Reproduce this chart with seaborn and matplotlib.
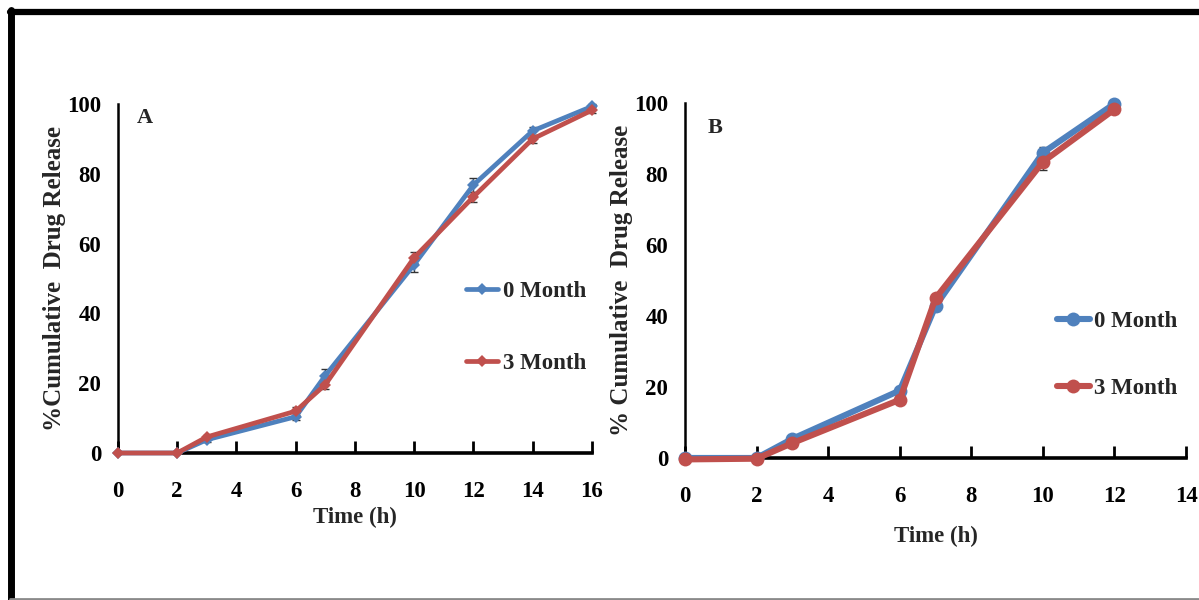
import numpy as np
import pandas as pd
import matplotlib
matplotlib.use("Agg")
import matplotlib.pyplot as plt
from matplotlib.lines import Line2D
import seaborn as sns

# Dissolution profiles, panel A
time_a = [0, 2, 3, 6, 7, 10, 12, 14, 16]
a_0m = [0, 0, 3.8, 10.4, 22.2, 54.0, 76.8, 92.3, 99.3]
a_3m = [0, 0, 4.6, 12.0, 19.6, 56.0, 73.4, 90.0, 98.2]
a_0m_err = [0, 0, 0.6, 1.0, 1.8, 2.2, 2.0, 1.2, 0.8]
a_3m_err = [0, 0, 0.6, 1.2, 1.2, 1.6, 1.4, 1.2, 0.8]

# Dissolution profiles, panel B
time_b = [0, 2, 3, 6, 7, 10, 12]
b_0m = [0, 0, 5.4, 19.0, 42.8, 86.0, 99.8]
b_3m = [-0.4, -0.2, 4.2, 16.4, 45.0, 83.4, 98.2]
b_0m_err = [0, 0, 0.6, 1.0, 1.5, 1.5, 0.8]
b_3m_err = [0, 0, 0.6, 1.0, 1.2, 2.2, 1.0]

series_labels = ["0 Month", "3 Month"]
colors = {"0 Month": "#4F81BD", "3 Month": "#C0504D"}

sns.set_theme(style="white")
plt.rcParams["font.family"] = ["Liberation Serif", "DejaVu Serif"]
plt.rcParams["font.weight"] = "bold"

fig = plt.figure(figsize=(11.99, 6.0), dpi=100)
fig.patch.set_facecolor("white")

ax_a = fig.add_axes([0.0984, 0.245, 0.3953, 0.5817])
ax_b = fig.add_axes([0.5713, 0.2367, 0.4179, 0.5917])


def long_frame(t, s0, s3):
    return pd.DataFrame({
        "time": list(t) + list(t),
        "release": list(s0) + list(s3),
        "batch": [series_labels[0]] * len(t) + [series_labels[1]] * len(t),
    })


def draw_panel(ax, t, s0, s3, e0, e3, marker, msize, lw, xmax, xlabel_pad,
               tag, tag_xy, ylabel, legend_anchor, spacing):
    df = long_frame(t, s0, s3)
    sns.lineplot(data=df, x="time", y="release", hue="batch", palette=colors,
                 marker=marker, markersize=msize, markeredgewidth=0,
                 linewidth=lw, ax=ax, legend=False, clip_on=False, zorder=3)
    for vals, errs in ((s0, e0), (s3, e3)):
        ax.errorbar(t, vals, yerr=errs, fmt="none", ecolor="#333333",
                    elinewidth=1.0, capsize=3, capthick=1.0, zorder=2,
                    clip_on=False)
    ax.set_xlim(0, xmax)
    ax.set_ylim(0, 100)
    ax.set_xticks(np.arange(0, xmax + 1, 2))
    ax.set_yticks(np.arange(0, 101, 20))
    for s in ("top", "right"):
        ax.spines[s].set_visible(False)
    ax.spines["bottom"].set_linewidth(2.6)
    ax.spines["left"].set_linewidth(1.8)
    ax.spines["bottom"].set_color("black")
    ax.spines["left"].set_color("black")
    ax.spines["bottom"].set_zorder(1)
    ax.tick_params(axis="x", direction="in", length=9, width=2.0,
                   pad=20, labelsize=16.5, colors="black", bottom=True)
    ax.tick_params(axis="y", length=0, pad=12, labelsize=16.5, colors="black")
    for lab in ax.get_xticklabels() + ax.get_yticklabels():
        lab.set_fontweight("bold")
    ax.set_xlabel("Time (h)", fontsize=16.5, fontweight="bold", labelpad=xlabel_pad)
    ax.set_ylabel(ylabel, fontsize=18, fontweight="bold", labelpad=1)
    ax.text(tag_xy[0], tag_xy[1], tag, transform=ax.transAxes,
            fontsize=16, fontweight="bold", ha="left", va="center")
    handles = [Line2D([], [], color=colors[l], linewidth=lw, marker=marker,
                      markersize=msize, markeredgewidth=0)
               for l in series_labels]
    ax.legend(handles, series_labels, loc="center left",
              bbox_to_anchor=legend_anchor, frameon=False,
              prop={"family": "Liberation Serif", "weight": "bold", "size": 16.5},
              handlelength=1.4, handletextpad=0.2, labelspacing=spacing,
              borderaxespad=0)
    ax.set_facecolor("white")


draw_panel(ax_a, time_a, a_0m, a_3m, a_0m_err, a_3m_err,
           marker="D", msize=6, lw=3.4, xmax=16, xlabel_pad=4,
           tag="A", tag_xy=(0.04, 0.96),
           ylabel="%Cumulative  Drug Release",
           legend_anchor=(0.715, 0.36), spacing=2.2)

draw_panel(ax_b, time_b, b_0m, b_3m, b_0m_err, b_3m_err,
           marker="o", msize=10, lw=4.4, xmax=14, xlabel_pad=14,
           tag="B", tag_xy=(0.045, 0.93),
           ylabel="% Cumulative  Drug Release",
           legend_anchor=(0.725, 0.29), spacing=2.0)

# Outer frame around the composite figure
fig.add_artist(Line2D([0.008, 1.0], [0.98, 0.98], transform=fig.transFigure,
                      color="black", linewidth=4.5))
fig.add_artist(Line2D([0.0092, 0.0092], [0.0, 0.983], transform=fig.transFigure,
                      color="black", linewidth=5.0))
fig.add_artist(Line2D([0.008, 1.0], [0.0025, 0.0025], transform=fig.transFigure,
                      color="#8a8a8a", linewidth=2.0))

fig.savefig("out.png", dpi=100, facecolor="white")
